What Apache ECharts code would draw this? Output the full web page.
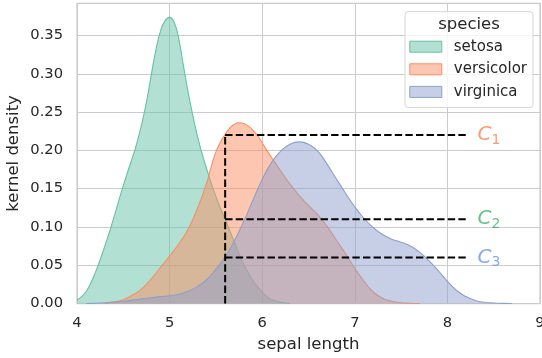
<!DOCTYPE html>
<html>
<head>
<meta charset="utf-8">
<script src="https://cdn.jsdelivr.net/npm/echarts@6/dist/echarts.min.js"></script>
<style>html,body{margin:0;padding:0;background:#fff}#c{width:542px;height:358px}</style>
</head>
<body>
<div id="c"></div>
<script>
// ---- data ----
const speciesNames = ['setosa', 'versicolor', 'virginica'];
const setosaX = [4.00,4.05,4.10,4.15,4.20,4.25,4.30,4.35,4.40,4.45,4.50,4.55,4.60,4.65,4.70,4.75,4.80,4.85,4.90,4.95,5.00,5.05,5.10,5.15,5.20,5.25,5.30,5.35,5.40,5.45,5.50,5.55,5.60,5.65,5.70,5.75,5.80,5.85,5.90,5.95,6.00,6.05,6.10,6.15,6.20,6.25,6.30];
const setosaY = [0.005,0.009,0.016,0.027,0.041,0.057,0.075,0.093,0.113,0.134,0.154,0.173,0.191,0.211,0.235,0.263,0.297,0.330,0.355,0.369,0.3736,0.367,0.345,0.310,0.276,0.246,0.219,0.196,0.176,0.157,0.140,0.124,0.110,0.095,0.080,0.065,0.051,0.040,0.030,0.022,0.015,0.009,0.005,0.003,0.0015,0.0006,0.0];
const versicolorX = [4.30,4.40,4.50,4.60,4.70,4.80,4.90,5.00,5.10,5.20,5.30,5.40,5.45,5.50,5.55,5.60,5.65,5.70,5.75,5.80,5.85,5.90,5.95,6.00,6.05,6.10,6.20,6.30,6.40,6.50,6.60,6.70,6.80,6.90,7.00,7.10,7.20,7.30,7.40,7.50,7.60,7.70];
const versicolorY = [0.0,0.002,0.005,0.011,0.019,0.032,0.047,0.062,0.078,0.097,0.124,0.157,0.179,0.198,0.211,0.221,0.229,0.234,0.236,0.235,0.232,0.226,0.219,0.210,0.200,0.191,0.173,0.156,0.141,0.128,0.116,0.101,0.083,0.065,0.046,0.029,0.015,0.007,0.003,0.001,0.0003,0.0];
const virginicaX = [4.10,4.30,4.50,4.70,4.90,5.00,5.10,5.20,5.30,5.40,5.50,5.60,5.70,5.80,5.90,6.00,6.10,6.20,6.30,6.40,6.50,6.60,6.70,6.80,6.90,7.00,7.10,7.20,7.30,7.40,7.50,7.60,7.70,7.80,7.90,8.00,8.10,8.20,8.30,8.40,8.50,8.60,8.70];
const virginicaY = [0.0,0.001,0.003,0.006,0.009,0.010,0.012,0.016,0.022,0.031,0.045,0.061,0.082,0.107,0.135,0.162,0.184,0.199,0.208,0.211,0.208,0.199,0.182,0.163,0.144,0.126,0.111,0.099,0.090,0.084,0.080,0.075,0.067,0.056,0.043,0.029,0.017,0.009,0.004,0.0016,0.0006,0.0002,0.0];
const cutX = 5.6;
const lineEndX = 8.2;
const levels = [0.22, 0.11, 0.06];
const levelLabels = ['1', '2', '3'];
const xTicks = [4, 5, 6, 7, 8, 9];
const yTicks = [0.00, 0.05, 0.10, 0.15, 0.20, 0.25, 0.30, 0.35];

// ---- styles ----
const colors = ['#66c2a5', '#fc8d62', '#8da0cb'];
const fills = ['rgba(102,194,165,0.5)', 'rgba(252,141,98,0.5)', 'rgba(141,160,203,0.5)'];
const labelColors = ['#ff7f50', '#3cb371', '#6495ed'];
const FONT = "'DejaVu Sans', sans-serif";
const TXT = '#262626';

const xs = [setosaX, versicolorX, virginicaX];
const ys = [setosaY, versicolorY, virginicaY];

const series = [];
speciesNames.forEach((n, i) => {
  series.push({
    name: n, type: 'line', smooth: 0.5, showSymbol: false, symbol: 'none',
    data: xs[i].map((x, j) => [x, ys[i][j]]),
    lineStyle: { color: colors[i], width: 1.1 },
    itemStyle: { color: colors[i] },
    areaStyle: { color: fills[i], opacity: 1 },
    z: 2 + i
  });
});
series.push({
  name: 'cut', type: 'line', symbol: 'none', silent: true,
  data: [[cutX, 0], [cutX, Math.max(...levels)]],
  lineStyle: { color: '#000', width: 2, type: [7.4, 3.2] }, z: 10
});
levels.forEach((lv, i) => {
  series.push({
    name: 'lv' + i, type: 'line', symbol: 'none', silent: true,
    data: [[cutX, lv], [lineEndX, lv]],
    lineStyle: { color: '#000', width: 2, type: [7.4, 3.2] }, z: 10
  });
  series.push({
    name: 'lab' + i, type: 'scatter', symbolSize: 1, silent: true,
    itemStyle: { color: 'rgba(0,0,0,0)' },
    data: [[lineEndX, lv]],
    label: {
      show: true, position: 'right', distance: 11,
      formatter: '{c|C}{s|' + levelLabels[i] + '}',
      rich: {
        c: { fontSize: 20, fontStyle: 'italic', fontFamily: FONT, color: labelColors[i], lineHeight: 24, verticalAlign: 'middle' },
        s: { fontSize: 14, fontFamily: FONT, color: labelColors[i], lineHeight: 14, verticalAlign: 'bottom' }
      }
    }, z: 11
  });
});

const chart = echarts.init(document.getElementById('c'), null, { renderer: 'canvas' });
chart.setOption({
  animation: false,
  backgroundColor: '#fff',
  grid: { left: 77, right: 2, top: 3.3, bottom: 54.5, outerBoundsMode: 'none', containLabel: false,
    show: true, borderColor: '#cccccc', borderWidth: 1.25, backgroundColor: '#fff' },
  xAxis: {
    type: 'value', min: xTicks[0], max: xTicks[xTicks.length - 1], interval: 1,
    name: 'sepal length', nameLocation: 'middle', nameGap: 33, nameMoveOverlap: false,
    nameTextStyle: { fontSize: 16.5, fontFamily: FONT, color: TXT },
    axisLine: { show: false }, axisTick: { show: false },
    axisLabel: { fontSize: 14.7, fontFamily: FONT, color: TXT, margin: 12 },
    splitLine: { show: true, lineStyle: { color: '#cccccc', width: 1 } }
  },
  yAxis: {
    type: 'value', min: yTicks[0], max: 0.392, interval: 0.05,
    name: 'kernel density', nameLocation: 'middle', nameGap: 55, nameMoveOverlap: false,
    nameTextStyle: { fontSize: 16.5, fontFamily: FONT, color: TXT },
    axisLine: { show: false }, axisTick: { show: false },
    axisLabel: { fontSize: 14.7, fontFamily: FONT, color: TXT, margin: 14, showMaxLabel: false,
      formatter: v => (yTicks.some(t => Math.abs(t - v) < 1e-9) ? v.toFixed(2) : '') },
    splitLine: { show: true, lineStyle: { color: '#cccccc', width: 1 } }
  },
  legend: {
    orient: 'vertical', left: 405, top: 11.7, icon: 'rect',
    itemWidth: 32, itemHeight: 11, itemGap: 7.6,
    padding: [27.5, 6, 8, 4.3],
    backgroundColor: 'rgba(255,255,255,0.8)', borderColor: '#d6d6d6', borderWidth: 1, borderRadius: 3,
    textStyle: { fontSize: 15, fontFamily: FONT, color: TXT, lineHeight: 15, padding: [0, 0, 0, 7] },
    data: speciesNames.map((n, i) => ({ name: n, itemStyle: { color: fills[i], borderColor: colors[i], borderWidth: 1 } })),
    selectedMode: false
  },
  graphic: [{
    type: 'text', x: 469, y: 25, z: 100,
    style: { text: 'species', fontSize: 16.5, fontFamily: FONT, fill: TXT, align: 'center', verticalAlign: 'middle' }
  }],
  series: series
});
</script>
</body>
</html>
